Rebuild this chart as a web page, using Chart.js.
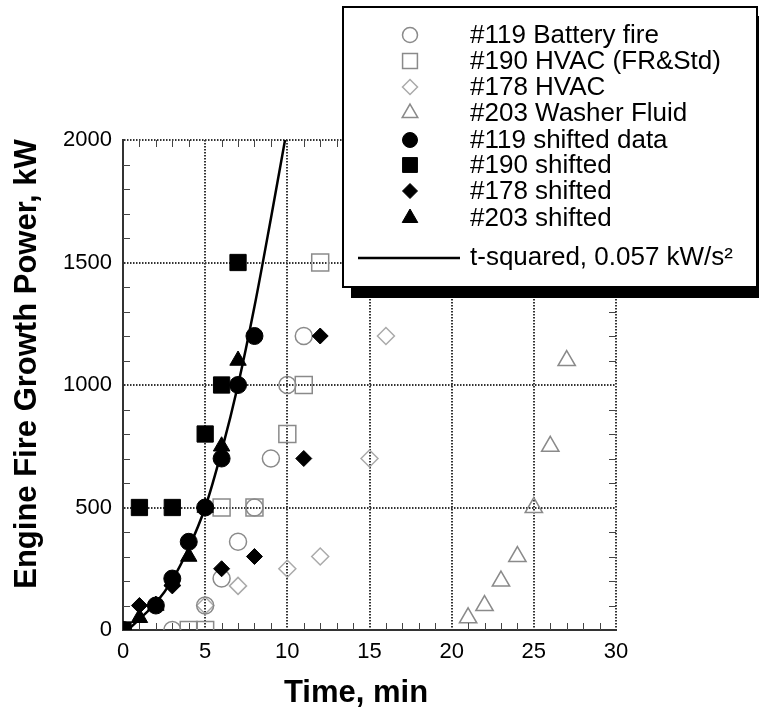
<!DOCTYPE html>
<html>
<head>
<meta charset="utf-8">
<style>
  html, body { margin: 0; padding: 0; background: #fff; }
  #wrap { width: 759px; height: 717px; }
</style>
<script src="https://cdn.jsdelivr.net/npm/chart.js@4/dist/chart.umd.min.js"></script>
</head>
<body>
<div id="wrap"><canvas id="fireChart" width="759" height="717"></canvas></div>
<script>
// ticks
const xTicks = [0, 5, 10, 15, 20, 25, 30];
const yTicks = [0, 500, 1000, 1500, 2000];

// #119 battery fire (open) and shifted (filled)
const open119X = [3, 5, 6, 7, 8, 9, 10, 11];
const open119Y = [0, 100, 210, 360, 500, 700, 1000, 1200];
const shift119X = [0, 2, 3, 4, 5, 6, 7, 8];
const shift119Y = [0, 100, 210, 360, 500, 700, 1000, 1200];

// #190 HVAC
const open190X = [4, 5, 6, 8, 10, 11, 12];
const open190Y = [0, 0, 500, 500, 800, 1000, 1500];
const shift190X = [0, 1, 3, 5, 6, 7];
const shift190Y = [0, 500, 500, 800, 1000, 1500];

// #178 HVAC
const open178X = [5, 7, 10, 12, 15, 16];
const open178Y = [100, 180, 250, 300, 700, 1200];
const shift178X = [1, 3, 6, 8, 11, 12];
const shift178Y = [100, 180, 250, 300, 700, 1200];

// #203 washer fluid
const open203X = [21, 22, 23, 24, 25, 26, 27];
const open203Y = [50, 100, 200, 300, 500, 750, 1100];
const shift203X = [1, 2, 3, 4, 5, 6, 7];
const shift203Y = [50, 100, 200, 300, 500, 750, 1100];

// t-squared curve
const curveX = [0.3, 1, 2, 3, 4, 5, 6, 7, 8, 9, 9.86];
const curveY = [0, 45, 110, 205, 335, 500, 730, 1000, 1320, 1680, 2000];

const FONT = "'Liberation Sans', Arial, Helvetica, sans-serif";
Chart.defaults.font.family = FONT;
Chart.defaults.color = "#000";

function pts(xs, ys) {
  return xs.map((x, i) => ({ x: x, y: ys[i] }));
}

const GREY = "#8a8a8a";
const LIGHT = "#aaa";

function openSet(label, xs, ys, style, radius, color) {
  return {
    label: label, data: pts(xs, ys), pointStyle: style, pointRadius: radius,
    pointBackgroundColor: "rgba(255,255,255,0)", pointBorderColor: color,
    pointBorderWidth: 1.5, showLine: false, order: 3
  };
}
function filledSet(label, xs, ys, style, radius) {
  return {
    label: label, data: pts(xs, ys), pointStyle: style, pointRadius: radius,
    pointBackgroundColor: "#000", pointBorderColor: "#000",
    pointBorderWidth: 1, showLine: false, order: 2
  };
}

const datasets = [
  openSet("#119 Battery fire", open119X, open119Y, "circle", 8.5, GREY),
  openSet("#190 HVAC (FR&Std)", open190X, open190Y, "rect", 12, GREY),
  openSet("#178 HVAC", open178X, open178Y, "rectRot", 8.5, LIGHT),
  openSet("#203 Washer Fluid", open203X, open203Y, "triangle", 10, GREY),
  filledSet("#119 shifted data", shift119X, shift119Y, "circle", 8.5),
  filledSet("#190 shifted", shift190X, shift190Y, "rect", 11.5),
  filledSet("#178 shifted", shift178X, shift178Y, "rectRot", 8),
  filledSet("#203 shifted", shift203X, shift203Y, "triangle", 9.5),
  {
    label: "t-squared, 0.057 kW/s\u00b2", data: pts(curveX, curveY), showLine: true,
    borderColor: "#000", borderWidth: 2.5, pointRadius: 0, cubicInterpolationMode: "monotone",
    fill: false, order: 1
  }
];

// minor ticks on all four sides
const minorTicks = {
  id: "minorTicks",
  afterDatasetsDraw(chart) {
    const { ctx, chartArea: a, scales: { x, y } } = chart;
    ctx.save();
    ctx.strokeStyle = "#444";
    ctx.lineWidth = 1;
    ctx.beginPath();
    for (let v = 1; v < 30; v++) {
      if (v % 5 === 0) continue;
      const px = Math.round(x.getPixelForValue(v)) + 0.5;
      ctx.moveTo(px, a.bottom); ctx.lineTo(px, a.bottom - 7);
      ctx.moveTo(px, a.top); ctx.lineTo(px, a.top + 7);
    }
    for (let v = 100; v < 2000; v += 100) {
      if (v % 500 === 0) continue;
      const py = Math.round(y.getPixelForValue(v)) + 0.5;
      ctx.moveTo(a.left, py); ctx.lineTo(a.left + 7, py);
      ctx.moveTo(a.right, py); ctx.lineTo(a.right - 7, py);
    }
    ctx.stroke();
    ctx.restore();
  }
};

// axis titles placed like the original figure
const axisTitles = {
  id: "axisTitles",
  afterDraw(chart) {
    const ctx = chart.ctx;
    ctx.save();
    ctx.fillStyle = "#000";
    ctx.font = "bold 31px " + FONT;
    ctx.textAlign = "center";
    ctx.textBaseline = "middle";
    ctx.fillText("Time, min", 356, 693);
    ctx.translate(27, 364);
    ctx.rotate(-Math.PI / 2);
    ctx.fillText("Engine Fire Growth Power, kW", 0, 0);
    ctx.restore();
  }
};

// boxed legend with drop shadow, top right
const boxLegend = {
  id: "boxLegend",
  afterDraw(chart) {
    const ctx = chart.ctx;
    const bx = 343, by = 7, bw = 414, bh = 280;
    ctx.save();
    ctx.fillStyle = "#000";
    ctx.fillRect(bx + 8, by + 9, bw + 10, bh + 2);
    ctx.fillStyle = "#fff";
    ctx.fillRect(bx, by, bw, bh);
    ctx.strokeStyle = "#000";
    ctx.lineWidth = 2;
    ctx.strokeRect(bx, by, bw, bh);

    const rows = [35, 61, 87, 113, 140, 165, 191, 218];
    ctx.font = "26px " + FONT;
    ctx.textBaseline = "middle";
    ctx.textAlign = "left";
    const drawPoint = Chart.helpers && Chart.helpers.drawPoint;
    chart.data.datasets.forEach((ds, i) => {
      if (i < 8) {
        const r = ds.pointStyle === "rect" ? 10.5 : ds.pointStyle === "triangle" ? 9 : 7.5;
        ctx.fillStyle = ds.pointBackgroundColor;
        ctx.strokeStyle = ds.pointBorderColor;
        ctx.lineWidth = ds.pointBorderWidth;
        drawPoint(ctx, { pointStyle: ds.pointStyle, radius: r, rotation: 0, borderWidth: ds.pointBorderWidth }, 410, rows[i]);
        ctx.fillStyle = "#000";
        ctx.fillText(ds.label, 470, rows[i] + 1);
      } else {
        ctx.strokeStyle = "#000";
        ctx.lineWidth = 2.5;
        ctx.beginPath();
        ctx.moveTo(358, 258); ctx.lineTo(460, 258);
        ctx.stroke();
        ctx.fillStyle = "#000";
        ctx.fillText(ds.label, 470, 258);
      }
    });
    ctx.restore();
  }
};

const gridStyle = {
  color: "#333",
  lineWidth: 2,
  drawTicks: false
};

new Chart(document.getElementById("fireChart"), {
  type: "scatter",
  data: { datasets: datasets },
  options: {
    responsive: false,
    animation: false,
    layout: { padding: { left: 0, top: 140, right: 143, bottom: 0 } },
    plugins: { legend: { display: false }, tooltip: { enabled: false } },
    scales: {
      x: {
        type: "linear", min: 0, max: 30,
        afterBuildTicks: (s) => { s.ticks = xTicks.map(v => ({ value: v })); },
        afterFit: (s) => { s.height = 87; },
        ticks: { font: { size: 22 }, padding: 9, callback: (v) => String(v), maxRotation: 0 },
        grid: gridStyle,
        border: { display: true, color: "#333", width: 2, dash: [1.5, 1.5] }
      },
      y: {
        type: "linear", min: 0, max: 2000,
        afterBuildTicks: (s) => { s.ticks = yTicks.map(v => ({ value: v })); },
        afterFit: (s) => { s.width = 123; },
        ticks: { font: { size: 22 }, padding: 11, callback: (v) => String(v) },
        grid: gridStyle,
        border: { display: true, color: "#333", width: 2, dash: [1.5, 1.5] }
      }
    }
  },
  plugins: [minorTicks, axisTitles, boxLegend]
});
</script>
</body>
</html>
